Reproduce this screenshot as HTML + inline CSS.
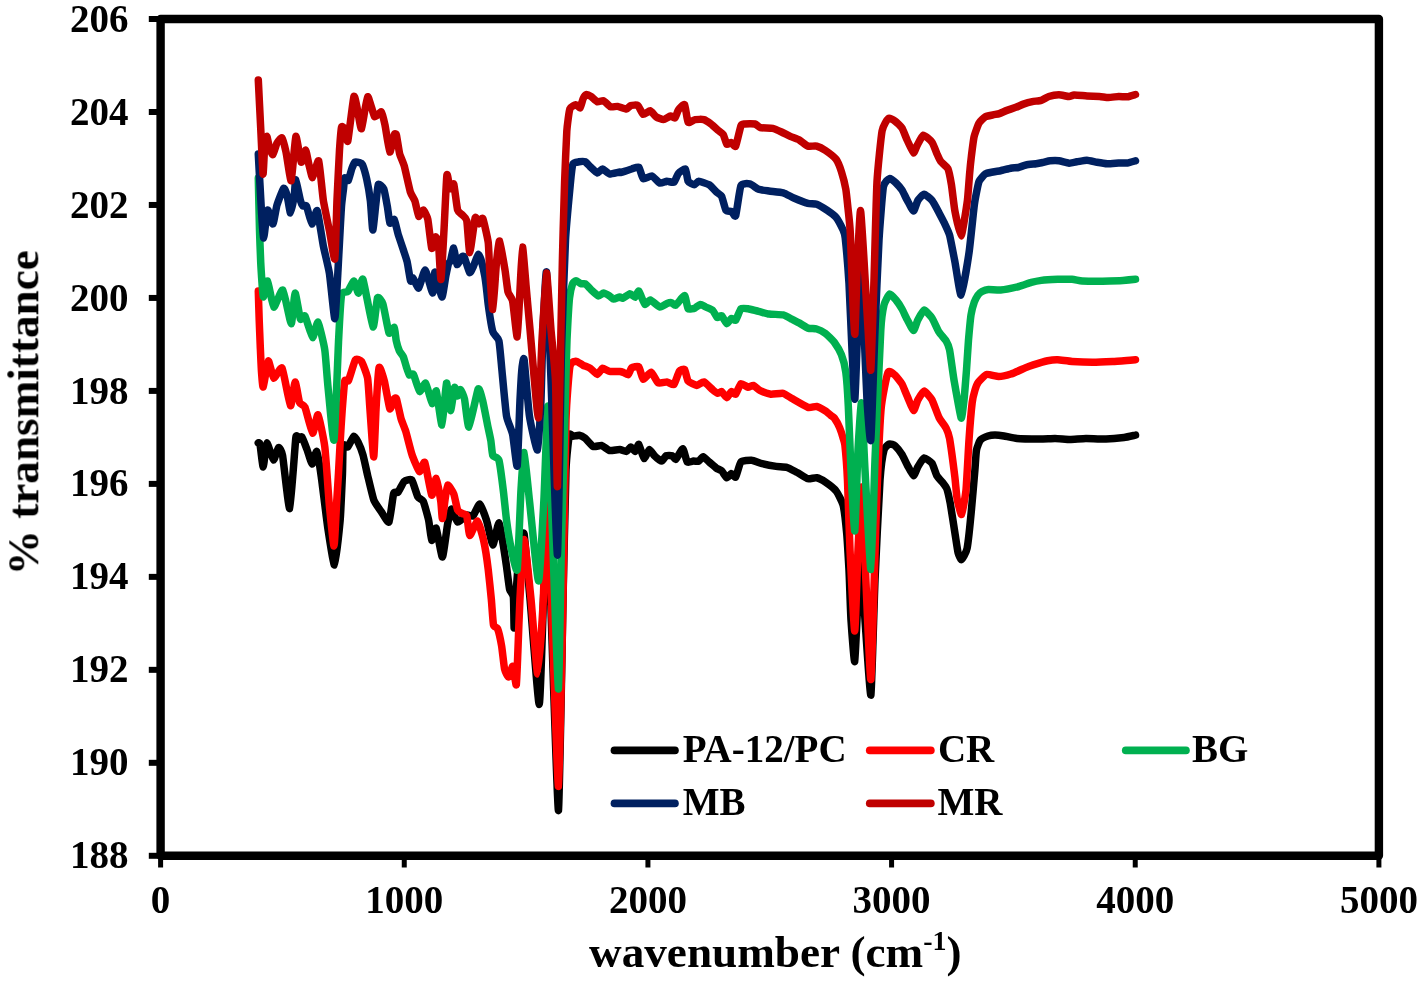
<!DOCTYPE html>
<html><head><meta charset="utf-8"><style>
html,body{margin:0;padding:0;background:#fff;width:1419px;height:982px;overflow:hidden}
svg{display:block}
text{will-change:transform}
text{font-family:"Liberation Serif",serif;font-weight:bold;fill:#000}
.t{font-size:39px}
.l{font-size:39px}
.ti{font-size:45.2px}
</style></head><body>
<svg width="1419" height="982" viewBox="0 0 1419 982">
<path d="M160.6,19.0H1378.9V855.8H160.6Z" fill="none" stroke="#000" stroke-width="8.4" stroke-linejoin="round"/>
<line x1="148.8" y1="855.80" x2="160.6" y2="855.80" stroke="#000" stroke-width="6"/>
<text x="128.5" y="868.40" text-anchor="end" class="t">188</text>
<line x1="148.8" y1="762.82" x2="160.6" y2="762.82" stroke="#000" stroke-width="6"/>
<text x="128.5" y="775.42" text-anchor="end" class="t">190</text>
<line x1="148.8" y1="669.84" x2="160.6" y2="669.84" stroke="#000" stroke-width="6"/>
<text x="128.5" y="682.44" text-anchor="end" class="t">192</text>
<line x1="148.8" y1="576.87" x2="160.6" y2="576.87" stroke="#000" stroke-width="6"/>
<text x="128.5" y="589.47" text-anchor="end" class="t">194</text>
<line x1="148.8" y1="483.89" x2="160.6" y2="483.89" stroke="#000" stroke-width="6"/>
<text x="128.5" y="496.49" text-anchor="end" class="t">196</text>
<line x1="148.8" y1="390.91" x2="160.6" y2="390.91" stroke="#000" stroke-width="6"/>
<text x="128.5" y="403.51" text-anchor="end" class="t">198</text>
<line x1="148.8" y1="297.93" x2="160.6" y2="297.93" stroke="#000" stroke-width="6"/>
<text x="128.5" y="310.53" text-anchor="end" class="t">200</text>
<line x1="148.8" y1="204.96" x2="160.6" y2="204.96" stroke="#000" stroke-width="6"/>
<text x="128.5" y="217.56" text-anchor="end" class="t">202</text>
<line x1="148.8" y1="111.98" x2="160.6" y2="111.98" stroke="#000" stroke-width="6"/>
<text x="128.5" y="124.58" text-anchor="end" class="t">204</text>
<line x1="148.8" y1="19.00" x2="160.6" y2="19.00" stroke="#000" stroke-width="6"/>
<text x="128.5" y="31.60" text-anchor="end" class="t">206</text>
<line x1="160.60" y1="855.8" x2="160.60" y2="867.5" stroke="#000" stroke-width="5"/>
<text x="160.60" y="912.9" text-anchor="middle" class="t">0</text>
<line x1="404.26" y1="855.8" x2="404.26" y2="867.5" stroke="#000" stroke-width="5"/>
<text x="404.26" y="912.9" text-anchor="middle" class="t">1000</text>
<line x1="647.92" y1="855.8" x2="647.92" y2="867.5" stroke="#000" stroke-width="5"/>
<text x="647.92" y="912.9" text-anchor="middle" class="t">2000</text>
<line x1="891.58" y1="855.8" x2="891.58" y2="867.5" stroke="#000" stroke-width="5"/>
<text x="891.58" y="912.9" text-anchor="middle" class="t">3000</text>
<line x1="1135.24" y1="855.8" x2="1135.24" y2="867.5" stroke="#000" stroke-width="5"/>
<text x="1135.24" y="912.9" text-anchor="middle" class="t">4000</text>
<line x1="1378.90" y1="855.8" x2="1378.90" y2="867.5" stroke="#000" stroke-width="5"/>
<text x="1378.90" y="912.9" text-anchor="middle" class="t">5000</text>
<path d="M258.3,443.0 C258.4,443.1 259.6,442.0 260.0,444.0 C260.4,446.0 262.6,467.1 263.2,467.0 C263.8,466.9 265.9,443.6 266.8,443.0 C267.7,442.4 272.4,459.6 273.4,460.0 C274.4,460.4 277.7,447.9 278.5,447.5 C279.3,447.1 281.7,450.5 282.6,455.6 C283.5,460.7 288.6,510.0 289.7,508.5 C290.8,507.0 295.1,443.8 295.8,438.0 C296.5,432.2 298.0,439.6 298.5,439.5 C299.0,439.4 301.2,436.2 301.9,437.0 C302.6,437.8 306.1,447.2 307.0,449.5 C307.9,451.8 311.3,463.8 312.1,464.0 C312.9,464.2 315.9,450.4 316.7,451.5 C317.5,452.6 320.4,470.6 321.3,477.0 C322.2,483.4 326.8,521.4 327.9,528.7 C329.0,536.0 333.5,565.6 334.5,565.0 C335.5,564.4 339.4,528.5 340.1,521.0 C340.8,513.5 342.1,481.6 342.4,475.3 C342.7,469.0 342.8,447.8 343.2,445.4 C343.6,443.0 346.9,447.7 347.8,446.9 C348.7,446.1 353.0,436.6 353.9,436.2 C354.8,435.8 357.2,440.4 358.0,442.0 C358.8,443.6 362.2,452.2 363.0,455.0 C363.8,457.8 366.7,471.6 367.6,475.3 C368.5,479.0 372.6,496.6 373.7,499.7 C374.8,502.8 380.1,510.0 381.4,511.9 C382.7,513.8 388.0,523.5 389.0,522.0 C390.0,520.5 392.9,496.1 393.6,493.6 C394.4,491.1 397.1,493.2 398.0,492.2 C398.9,491.2 403.1,482.5 404.2,481.5 C405.3,480.5 410.7,478.7 411.8,480.0 C412.9,481.3 416.9,495.2 417.9,497.0 C418.9,498.8 422.4,499.5 423.3,501.4 C424.2,503.3 427.9,516.8 428.6,520.0 C429.3,523.2 431.1,539.7 431.7,540.4 C432.3,541.1 435.3,526.8 436.2,528.2 C437.1,529.6 441.4,557.4 442.4,557.0 C443.4,556.6 446.9,527.6 447.7,523.6 C448.5,519.6 450.7,509.1 451.5,509.0 C452.3,508.9 456.3,521.6 457.6,522.1 C458.9,522.6 465.5,515.5 466.8,515.0 C468.1,514.5 471.8,516.9 472.9,516.0 C474.0,515.1 478.7,503.6 479.8,504.0 C480.9,504.4 485.5,517.1 486.6,520.5 C487.7,523.9 491.8,544.8 492.8,545.0 C493.8,545.2 498.0,522.7 498.9,522.8 C499.8,522.9 502.9,542.9 503.5,546.5 C504.1,550.1 506.0,562.8 506.5,566.4 C507.0,570.0 509.0,586.8 509.6,589.3 C510.2,591.8 513.0,593.8 513.4,597.0 C513.8,600.2 513.9,629.4 514.2,628.0 C514.5,626.6 516.5,586.9 517.0,580.0 C517.5,573.1 519.4,548.8 520.0,545.0 C520.6,541.2 523.3,529.4 524.1,534.0 C524.9,538.6 528.8,585.8 530.1,600.0 C531.4,614.2 538.1,704.5 539.2,704.5 C540.3,704.5 542.8,616.2 543.5,600.0 C544.2,583.8 546.8,506.7 547.5,510.0 C548.2,513.3 551.1,615.0 552.0,640.0 C552.9,665.0 557.6,813.8 558.5,810.5 C559.4,807.2 562.4,628.4 563.0,600.0 C563.6,571.6 565.5,483.8 566.0,470.0 C566.5,456.2 568.8,437.8 569.4,435.0 C570.0,432.2 572.2,436.3 573.0,436.3 C573.8,436.3 578.1,435.1 579.1,435.3 C580.1,435.5 584.0,437.4 585.2,438.3 C586.4,439.2 591.9,445.9 593.3,446.5 C594.7,447.1 600.1,445.2 601.5,445.5 C602.9,445.8 608.1,450.2 609.6,450.5 C611.1,450.8 618.4,449.4 619.8,449.5 C621.2,449.6 625.5,451.6 626.4,451.4 C627.3,451.2 630.1,447.0 630.8,447.0 C631.5,447.0 634.5,451.6 635.2,451.4 C635.9,451.2 638.1,443.8 638.8,444.4 C639.5,445.0 643.1,458.1 644.0,458.5 C644.9,458.9 648.4,449.8 649.3,449.6 C650.2,449.4 653.6,454.8 654.6,455.8 C655.6,456.8 660.7,461.1 661.7,461.1 C662.7,461.1 665.2,456.2 666.1,455.8 C667.0,455.4 671.4,455.5 672.2,455.8 C673.0,456.1 674.9,459.9 675.8,459.3 C676.7,458.7 681.8,448.6 682.8,448.8 C683.8,449.0 686.3,461.0 687.2,462.0 C688.1,463.0 692.4,461.2 693.4,461.1 C694.4,461.0 697.9,461.5 698.7,461.1 C699.5,460.7 702.2,456.6 703.1,456.7 C704.0,456.8 708.1,461.1 709.2,462.0 C710.3,462.9 715.3,467.4 716.3,468.1 C717.3,468.8 720.7,470.0 721.6,470.8 C722.5,471.6 726.0,477.6 726.8,477.8 C727.6,478.0 730.6,473.5 731.3,473.4 C732.0,473.3 734.9,477.9 735.7,477.0 C736.5,476.1 739.6,463.4 740.9,462.0 C742.2,460.6 749.7,460.1 751.5,460.2 C753.3,460.3 760.0,463.2 762.1,463.7 C764.2,464.2 774.2,466.1 776.2,466.4 C778.2,466.7 784.9,466.8 786.7,467.3 C788.5,467.8 795.5,471.6 797.3,472.5 C799.1,473.4 806.3,478.3 807.9,478.7 C809.5,479.1 815.2,477.5 816.7,477.8 C818.2,478.1 823.9,481.1 825.5,482.2 C827.1,483.3 834.6,489.1 836.1,491.0 C837.6,492.9 842.2,501.6 843.1,505.1 C844.0,508.6 846.2,527.9 846.7,533.3 C847.2,538.7 848.6,562.8 849.0,570.0 C849.4,577.2 850.5,612.4 851.0,620.0 C851.5,627.6 854.1,663.2 854.7,661.5 C855.3,659.8 857.4,608.0 858.0,600.0 C858.6,592.0 860.9,563.3 861.5,565.0 C862.1,566.7 864.2,609.2 865.0,620.0 C865.8,630.8 870.1,698.3 870.9,695.0 C871.7,691.7 874.2,597.9 875.0,580.0 C875.8,562.1 879.2,490.8 880.0,480.0 C880.8,469.2 883.2,453.0 884.0,450.0 C884.8,447.0 888.5,444.4 889.4,444.0 C890.3,443.6 894.0,444.8 895.0,445.7 C896.0,446.6 901.0,452.9 902.0,454.5 C903.0,456.1 906.3,463.3 907.3,465.1 C908.3,466.9 912.6,475.6 913.5,475.7 C914.4,475.8 917.0,468.3 917.9,466.8 C918.8,465.3 922.9,458.3 924.1,458.0 C925.3,457.7 930.9,461.8 932.0,463.3 C933.1,464.8 935.9,474.0 936.8,475.6 C937.7,477.2 941.6,481.2 942.4,482.3 C943.2,483.4 946.2,487.2 946.9,489.0 C947.6,490.8 949.6,500.1 950.3,503.6 C950.9,507.2 954.1,527.5 954.7,531.6 C955.4,535.7 957.5,550.6 958.1,552.9 C958.7,555.2 960.8,559.9 961.5,559.5 C962.2,559.1 966.3,552.6 967.1,548.4 C967.9,544.2 970.9,515.7 971.5,509.2 C972.1,502.7 974.5,474.9 974.9,470.0 C975.3,465.1 976.0,452.5 976.5,450.0 C977.0,447.5 979.4,441.2 980.4,440.0 C981.4,438.8 986.8,436.4 988.0,436.0 C989.2,435.6 993.7,435.0 995.0,435.0 C996.3,435.0 1002.2,435.7 1004.0,436.0 C1005.8,436.3 1014.0,438.2 1017.0,438.5 C1020.0,438.8 1036.8,439.0 1040.0,439.0 C1043.2,439.0 1052.5,438.5 1055.0,438.5 C1057.5,438.5 1067.4,439.5 1070.0,439.5 C1072.6,439.5 1083.0,438.5 1086.0,438.5 C1089.0,438.5 1102.8,439.1 1106.0,439.0 C1109.2,438.9 1121.5,437.8 1124.0,437.5 C1126.5,437.2 1134.5,435.3 1135.5,435.1" fill="none" stroke="#000000" stroke-width="7.5" stroke-linejoin="round" stroke-linecap="round"/>
<path d="M258.3,291.0 C258.4,293.4 259.0,315.5 259.2,320.0 C259.4,324.5 260.0,340.7 260.2,345.0 C260.4,349.3 261.2,368.5 261.5,372.0 C261.8,375.5 262.6,387.9 263.2,387.0 C263.8,386.1 267.4,361.7 268.3,361.0 C269.2,360.3 272.6,377.6 273.7,378.2 C274.8,378.8 280.7,366.0 282.1,368.3 C283.5,370.6 289.4,404.6 290.5,405.7 C291.6,406.8 294.3,382.3 295.1,382.0 C295.9,381.7 298.8,400.5 299.6,402.6 C300.4,404.7 303.9,404.6 305.0,407.2 C306.1,409.8 311.5,432.6 312.6,433.2 C313.7,433.8 317.0,413.7 318.0,414.8 C319.0,415.9 323.9,439.3 324.8,446.9 C325.8,454.5 328.6,497.5 329.4,505.8 C330.2,514.1 333.4,546.1 334.0,546.0 C334.6,545.9 336.1,511.1 336.5,505.0 C336.9,498.9 338.2,478.4 338.5,473.0 C338.8,467.6 340.0,445.2 340.3,440.0 C340.6,434.8 341.8,414.9 342.2,410.0 C342.6,405.1 344.2,383.7 344.7,381.2 C345.2,378.7 347.6,382.3 348.5,380.5 C349.4,378.7 354.3,361.5 355.4,359.9 C356.5,358.3 360.5,359.9 361.5,361.4 C362.5,362.9 366.9,374.1 367.6,378.2 C368.3,382.2 369.5,403.4 370.0,410.0 C370.5,416.6 373.2,457.0 373.7,457.0 C374.2,457.0 375.6,417.5 376.0,410.0 C376.4,402.5 378.4,369.9 379.1,367.5 C379.8,365.1 383.5,377.8 384.4,381.2 C385.3,384.6 389.0,407.2 389.8,408.7 C390.6,410.2 393.7,399.6 394.3,398.8 C394.9,398.0 395.9,397.3 396.5,399.0 C397.1,400.7 400.3,416.2 401.1,418.9 C401.9,421.6 404.8,428.2 405.7,431.1 C406.6,434.0 410.7,450.6 411.8,454.0 C412.9,457.4 418.3,470.9 419.4,471.6 C420.5,472.3 423.8,460.4 424.8,462.4 C425.8,464.4 430.8,493.9 431.7,495.2 C432.6,496.5 435.4,477.9 436.2,478.4 C437.0,478.9 440.3,498.1 440.8,501.4 C441.3,504.7 442.0,518.6 442.4,518.5 C442.8,518.4 444.6,502.8 445.0,500.0 C445.4,497.2 447.0,485.5 447.7,485.0 C448.4,484.5 453.0,491.9 453.8,494.0 C454.6,496.1 456.9,508.4 457.6,510.0 C458.3,511.6 461.4,513.0 462.2,513.5 C463.0,514.0 466.2,514.2 466.8,516.0 C467.4,517.8 468.9,535.1 469.8,535.5 C470.7,535.9 476.4,520.6 477.5,521.0 C478.6,521.4 482.7,536.4 483.6,540.4 C484.5,544.4 487.6,564.4 488.2,569.4 C488.8,574.4 491.0,595.4 491.4,600.0 C491.8,604.6 493.0,622.6 493.5,625.0 C494.0,627.4 496.8,626.8 497.5,628.5 C498.2,630.2 501.0,642.4 501.6,645.8 C502.2,649.2 504.0,666.6 504.6,669.2 C505.2,671.8 508.0,677.2 508.7,677.0 C509.4,676.8 512.2,665.5 512.8,666.2 C513.4,666.9 515.9,686.3 516.3,685.0 C516.7,683.7 517.6,658.1 517.9,651.0 C518.2,643.9 519.4,609.3 519.9,600.0 C520.4,590.7 523.2,539.5 524.1,539.5 C525.0,539.5 530.0,588.8 531.1,600.0 C532.2,611.2 536.7,674.0 537.7,674.0 C538.7,674.0 542.5,616.3 543.3,600.0 C544.1,583.7 546.3,476.3 547.0,478.0 C547.7,479.7 551.0,594.3 552.0,620.0 C553.0,645.7 557.6,788.2 558.5,786.5 C559.4,784.8 562.4,630.5 563.0,600.0 C563.6,569.5 565.4,439.5 566.0,420.0 C566.6,400.5 569.1,371.2 569.9,366.3 C570.7,361.4 574.9,361.3 576.0,361.2 C577.1,361.1 581.9,364.7 583.1,365.3 C584.3,365.9 589.1,367.5 590.3,368.3 C591.5,369.1 596.4,374.4 597.4,374.4 C598.4,374.4 601.5,368.6 602.5,368.3 C603.5,368.1 608.2,371.1 609.6,371.4 C611.0,371.7 618.7,371.3 619.8,371.4 C620.9,371.5 622.2,371.9 622.9,372.2 C623.6,372.5 627.5,375.2 628.2,374.8 C628.9,374.4 630.8,368.5 631.7,367.8 C632.6,367.1 637.8,365.9 638.8,366.9 C639.8,367.8 642.2,378.8 643.2,379.2 C644.2,379.6 649.9,371.9 651.1,372.2 C652.3,372.5 656.8,382.0 658.1,382.8 C659.4,383.6 665.6,381.8 666.9,381.9 C668.2,382.0 673.0,385.4 674.0,384.5 C675.0,383.6 678.4,372.6 679.3,371.3 C680.2,370.1 683.9,368.7 684.6,369.5 C685.3,370.3 687.1,379.7 688.1,381.0 C689.1,382.3 695.6,385.3 696.9,385.4 C698.2,385.5 702.6,381.5 703.9,381.9 C705.2,382.3 711.6,388.9 712.8,389.8 C714.0,390.8 717.3,393.2 718.0,393.3 C718.7,393.4 720.9,391.2 721.6,391.6 C722.3,392.0 726.0,397.7 726.8,397.7 C727.6,397.7 730.6,391.9 731.3,391.6 C732.0,391.3 734.9,394.9 735.7,394.2 C736.5,393.5 739.9,384.2 740.9,383.6 C741.9,383.0 747.0,387.1 748.0,387.2 C749.0,387.3 752.3,385.1 753.3,385.4 C754.3,385.7 758.8,390.0 760.3,390.7 C761.8,391.4 769.0,394.0 770.9,394.2 C772.8,394.4 781.4,392.9 783.2,393.3 C785.0,393.7 789.9,397.4 792.0,398.6 C794.1,399.8 805.8,406.7 807.9,407.4 C810.0,408.1 815.2,406.2 816.7,406.5 C818.2,406.8 824.3,410.2 825.5,410.9 C826.7,411.6 830.1,414.7 830.8,415.3 C831.5,415.9 833.6,417.0 834.3,418.0 C835.0,419.0 838.9,425.9 839.6,427.6 C840.3,429.3 842.6,436.4 843.0,437.9 C843.4,439.4 844.5,441.6 844.9,445.2 C845.3,448.8 847.1,471.8 847.5,480.5 C847.9,489.2 849.4,537.5 850.0,550.0 C850.6,562.5 854.0,631.0 854.7,631.0 C855.4,631.0 857.4,562.0 858.0,550.0 C858.6,538.0 860.9,486.2 861.5,487.0 C862.1,487.8 864.2,544.0 865.0,560.0 C865.8,576.0 870.0,682.8 870.9,679.5 C871.8,676.2 875.2,542.5 876.0,520.0 C876.8,497.5 880.0,422.3 881.0,410.0 C882.0,397.7 886.8,375.4 888.0,372.5 C889.2,369.6 893.8,374.2 895.0,375.2 C896.2,376.2 901.0,382.2 902.0,384.0 C903.0,385.8 906.3,394.2 907.3,396.4 C908.3,398.6 912.6,410.2 913.5,410.5 C914.4,410.8 917.0,401.5 917.9,399.9 C918.8,398.3 922.9,391.1 924.1,391.1 C925.3,391.1 930.8,397.7 932.0,399.9 C933.2,402.1 937.8,415.1 939.0,417.5 C940.2,419.9 945.2,426.3 946.1,428.1 C947.0,429.9 948.9,434.6 949.6,438.7 C950.3,442.8 954.3,472.5 954.9,477.4 C955.5,482.3 956.5,494.9 957.0,498.0 C957.5,501.1 960.8,515.2 961.5,514.5 C962.2,513.8 965.4,496.2 966.0,490.0 C966.6,483.8 968.5,447.3 969.0,440.0 C969.5,432.7 971.7,406.7 972.2,402.5 C972.7,398.3 974.5,391.7 975.0,390.0 C975.5,388.3 977.3,383.5 978.3,382.2 C979.3,380.9 984.8,375.0 986.5,374.5 C988.2,374.0 996.7,376.5 998.7,376.5 C1000.7,376.5 1008.7,374.7 1010.9,374.0 C1013.1,373.3 1023.3,368.7 1025.2,367.9 C1027.1,367.1 1031.4,365.5 1033.3,364.9 C1035.2,364.3 1045.6,361.2 1047.6,360.8 C1049.6,360.4 1055.7,359.7 1057.7,359.8 C1059.7,359.9 1069.1,361.3 1072.0,361.5 C1074.9,361.7 1089.0,362.3 1092.4,362.3 C1095.8,362.3 1109.1,361.7 1112.7,361.5 C1116.3,361.3 1133.6,359.8 1135.5,359.7" fill="none" stroke="#FF0000" stroke-width="7.5" stroke-linejoin="round" stroke-linecap="round"/>
<path d="M258.3,178.0 C258.4,182.3 259.3,223.0 259.5,230.0 C259.7,237.0 260.5,257.6 260.7,262.0 C260.9,266.4 261.8,280.1 262.0,283.0 C262.2,285.9 263.0,297.2 263.5,297.0 C264.0,296.8 266.8,280.2 267.6,281.0 C268.5,281.8 272.4,306.2 273.7,307.0 C275.0,307.8 281.3,288.7 282.8,290.1 C284.3,291.5 290.2,323.4 291.2,323.7 C292.2,324.0 294.3,293.6 295.1,293.2 C295.9,292.8 299.6,317.2 300.4,319.1 C301.2,321.0 304.0,314.5 305.0,316.0 C306.0,317.5 311.5,337.0 312.6,337.5 C313.7,338.0 317.0,321.2 318.0,322.2 C319.0,323.2 324.0,344.7 324.8,350.0 C325.6,355.3 327.1,378.3 327.9,385.8 C328.7,393.3 333.1,443.8 334.0,440.0 C334.9,436.2 338.0,352.1 338.6,340.0 C339.2,327.9 340.8,298.7 341.6,294.7 C342.4,290.7 346.8,292.7 347.8,291.6 C348.8,290.5 353.0,280.9 353.9,281.0 C354.8,281.1 357.6,293.3 358.4,293.2 C359.2,293.1 361.8,276.6 363.0,279.4 C364.2,282.2 371.8,325.3 373.0,326.8 C374.2,328.3 376.7,299.7 377.5,297.8 C378.3,295.9 381.9,301.0 382.9,303.9 C383.9,306.8 388.1,330.9 389.0,332.9 C389.9,334.9 393.7,326.9 394.3,327.5 C394.9,328.1 395.8,338.6 396.2,340.5 C396.6,342.4 398.7,349.3 399.3,350.7 C399.9,352.1 402.7,355.4 403.3,356.8 C403.9,358.2 405.9,365.5 406.4,367.0 C406.9,368.5 408.8,374.4 409.4,375.0 C410.0,375.6 412.6,373.1 413.5,374.5 C414.4,375.9 418.6,390.8 419.6,391.5 C420.6,392.2 424.6,382.3 425.7,383.3 C426.8,384.3 431.3,403.0 432.2,403.6 C433.1,404.2 435.5,389.2 436.3,391.0 C437.1,392.8 441.1,425.7 442.0,425.0 C442.9,424.3 445.8,384.2 446.5,383.0 C447.2,381.8 449.8,410.1 450.5,410.5 C451.2,410.9 454.0,388.7 454.6,387.5 C455.2,386.3 457.0,395.8 457.5,396.0 C458.0,396.2 459.9,389.2 460.5,389.5 C461.1,389.8 463.8,395.9 464.5,399.0 C465.2,402.1 467.8,427.8 468.9,427.0 C470.0,426.2 477.1,391.2 478.2,389.0 C479.3,386.8 481.9,397.7 482.7,400.7 C483.5,403.7 486.9,421.8 487.6,425.2 C488.3,428.6 490.5,438.5 490.9,441.0 C491.3,443.5 492.1,453.9 492.8,455.5 C493.5,457.1 498.0,457.0 498.9,460.1 C499.8,463.2 502.9,487.2 503.5,492.2 C504.1,497.2 505.9,515.4 506.5,520.0 C507.1,524.6 510.2,543.9 511.1,548.0 C512.0,552.1 516.4,574.3 517.2,569.5 C518.0,564.7 520.4,499.8 521.0,490.0 C521.6,480.2 523.4,451.7 524.1,452.5 C524.8,453.3 528.2,489.3 529.4,500.0 C530.6,510.7 537.3,581.0 538.5,581.0 C539.7,581.0 543.1,514.6 543.9,500.0 C544.7,485.4 547.3,404.3 548.0,406.0 C548.7,407.7 551.1,496.4 552.0,520.0 C552.9,543.6 557.5,687.3 558.3,689.0 C559.1,690.7 561.0,559.9 561.5,540.0 C562.0,520.1 563.7,461.7 564.0,450.0 C564.3,438.3 565.0,409.2 565.3,400.0 C565.5,390.8 566.6,348.5 567.0,340.0 C567.4,331.5 569.0,302.7 569.5,298.0 C570.0,293.3 572.0,285.4 572.5,284.0 C573.0,282.6 575.3,280.7 576.0,280.7 C576.7,280.7 580.3,283.5 581.1,283.8 C581.9,284.1 584.4,283.3 585.2,283.8 C586.1,284.3 590.2,288.9 591.3,289.9 C592.4,290.9 597.4,295.7 598.4,296.0 C599.4,296.3 602.6,293.0 603.5,293.0 C604.4,293.0 608.8,295.5 609.6,296.0 C610.5,296.5 612.9,299.0 613.7,299.1 C614.6,299.2 619.0,297.1 619.8,297.0 C620.6,296.9 622.0,298.5 622.9,298.2 C623.8,297.9 629.0,293.9 630.0,293.8 C631.0,293.7 634.5,297.5 635.2,297.3 C635.9,297.1 638.0,290.5 638.8,291.1 C639.6,291.7 643.9,303.7 644.9,304.4 C645.9,305.1 649.0,299.8 650.2,300.0 C651.5,300.2 658.5,306.7 659.9,307.0 C661.3,307.3 666.0,303.9 667.0,303.5 C668.0,303.1 670.7,302.5 671.4,302.6 C672.1,302.7 674.7,305.8 675.8,305.2 C676.9,304.6 683.6,295.2 684.6,295.5 C685.6,295.8 687.2,307.8 688.1,308.8 C689.0,309.8 694.1,308.3 695.1,307.9 C696.1,307.5 699.5,304.5 700.4,304.4 C701.3,304.3 704.7,306.5 705.7,307.0 C706.7,307.5 711.8,309.6 712.8,310.5 C713.8,311.4 716.5,317.2 717.2,317.6 C717.9,318.0 720.8,315.3 721.6,315.8 C722.4,316.3 726.0,323.5 726.8,323.7 C727.6,323.9 730.6,318.7 731.3,318.4 C732.0,318.1 734.9,321.0 735.7,320.2 C736.5,319.4 739.9,309.8 740.9,308.8 C741.9,307.9 746.5,308.6 748.0,308.8 C749.5,309.0 756.8,311.0 758.6,311.4 C760.4,311.8 767.1,313.7 769.1,314.0 C771.1,314.3 781.3,314.5 783.2,314.9 C785.1,315.3 790.7,318.6 792.0,319.3 C793.3,320.0 797.8,322.2 799.1,322.9 C800.4,323.6 806.4,327.6 807.9,328.1 C809.4,328.6 815.2,328.6 816.7,329.0 C818.2,329.4 824.0,332.3 825.5,333.4 C827.0,334.5 833.0,340.4 834.3,342.2 C835.6,344.0 840.4,352.1 841.4,354.6 C842.4,357.1 845.2,367.9 845.8,372.2 C846.4,376.5 847.9,397.9 848.3,406.0 C848.7,414.1 850.5,459.6 851.0,470.0 C851.5,480.4 854.2,532.7 854.8,531.0 C855.4,529.3 857.4,460.7 858.0,450.0 C858.6,439.3 860.9,401.3 861.5,403.0 C862.1,404.7 864.2,456.1 865.0,470.0 C865.8,483.9 870.1,570.3 870.9,569.5 C871.7,568.7 874.2,480.0 875.0,460.0 C875.8,440.0 880.0,342.9 880.8,330.0 C881.5,317.1 883.3,308.0 884.0,305.0 C884.7,302.0 888.7,294.4 889.7,294.0 C890.7,293.6 895.0,298.8 896.0,300.0 C897.0,301.2 901.1,307.4 902.0,309.0 C902.9,310.6 906.3,318.0 907.3,319.8 C908.3,321.6 912.6,330.4 913.5,330.4 C914.4,330.4 917.0,321.5 917.9,319.8 C918.8,318.1 922.9,310.2 924.1,310.1 C925.3,310.0 930.8,316.2 932.0,318.0 C933.2,319.8 937.8,330.2 939.0,332.1 C940.2,334.0 945.2,339.4 946.1,340.9 C947.0,342.4 948.9,346.7 949.6,350.0 C950.3,353.3 953.0,374.3 954.0,380.0 C955.0,385.7 960.3,416.3 961.1,418.0 C961.9,419.7 963.5,404.0 964.0,400.0 C964.5,396.0 966.1,375.0 966.5,370.0 C966.9,365.0 968.1,344.6 968.5,340.0 C968.9,335.4 970.5,318.2 971.0,315.0 C971.5,311.8 973.7,303.7 974.3,302.0 C974.9,300.3 977.4,295.9 978.0,295.0 C978.6,294.1 981.1,292.0 982.0,291.5 C982.9,291.0 986.9,289.6 988.5,289.5 C990.1,289.4 998.2,290.2 1000.7,290.0 C1003.2,289.8 1016.5,287.1 1019.0,286.5 C1021.5,285.9 1029.4,282.9 1031.3,282.4 C1033.2,281.9 1039.2,280.7 1041.4,280.4 C1043.6,280.1 1055.2,279.4 1057.7,279.3 C1060.2,279.2 1070.0,279.2 1072.0,279.3 C1074.0,279.4 1079.7,280.8 1082.2,281.0 C1084.7,281.2 1099.1,281.2 1102.5,281.2 C1105.9,281.1 1120.2,280.6 1122.9,280.4 C1125.7,280.2 1134.5,279.4 1135.5,279.3" fill="none" stroke="#00B050" stroke-width="7.5" stroke-linejoin="round" stroke-linecap="round"/>
<path d="M258.3,154.0 C258.4,156.6 259.7,180.2 260.0,185.0 C260.3,189.8 261.2,207.6 261.5,212.0 C261.8,216.4 263.2,238.2 263.7,238.0 C264.2,237.8 266.8,211.2 267.6,210.0 C268.4,208.8 272.1,224.4 272.9,224.0 C273.7,223.6 276.1,208.0 277.0,205.0 C277.9,202.0 282.8,189.1 283.6,188.3 C284.4,187.5 286.4,192.9 287.0,195.0 C287.6,197.1 289.9,213.0 290.5,213.0 C291.1,213.0 293.9,197.8 294.3,195.0 C294.7,192.2 295.3,179.5 295.8,180.0 C296.3,180.5 299.8,198.3 300.4,200.5 C301.0,202.7 302.5,205.5 303.0,206.0 C303.5,206.5 305.8,204.5 306.5,206.0 C307.2,207.5 311.0,223.6 311.9,224.0 C312.8,224.4 316.2,208.9 317.2,210.7 C318.1,212.5 322.3,240.6 323.3,245.8 C324.3,251.0 328.4,267.2 329.4,273.3 C330.4,279.4 334.1,319.0 334.8,318.7 C335.5,318.4 337.6,277.4 338.0,270.0 C338.4,262.6 339.8,235.9 340.1,230.5 C340.4,225.1 341.3,208.5 341.6,205.0 C341.9,201.5 343.2,191.2 343.5,188.9 C343.8,186.6 344.3,178.6 344.7,177.9 C345.1,177.2 347.7,181.2 348.3,180.4 C348.9,179.6 351.4,169.6 352.0,168.1 C352.6,166.6 354.5,162.5 355.1,162.0 C355.7,161.5 358.7,162.4 359.3,162.6 C359.9,162.8 361.8,163.1 362.4,164.5 C363.0,165.9 366.0,176.0 366.7,179.1 C367.4,182.2 369.9,196.9 370.4,201.1 C370.9,205.3 372.3,229.8 372.8,230.0 C373.3,230.2 375.4,207.4 375.9,203.6 C376.4,199.8 377.6,185.7 378.3,184.5 C379.0,183.3 383.0,187.0 383.8,188.9 C384.6,190.8 387.0,204.5 387.5,207.3 C388.0,210.2 389.3,222.1 389.9,223.1 C390.5,224.1 393.5,218.5 394.2,219.5 C394.9,220.5 397.7,232.9 398.5,235.4 C399.3,237.9 402.7,247.8 403.4,250.0 C404.1,252.2 406.6,259.4 407.2,262.0 C407.8,264.6 410.1,279.7 410.6,281.0 C411.1,282.3 412.3,277.4 413.0,278.0 C413.7,278.6 417.7,288.7 418.7,288.0 C419.7,287.3 424.0,269.6 425.2,270.0 C426.4,270.4 431.8,292.8 432.6,293.0 C433.4,293.2 434.2,271.7 435.0,272.0 C435.8,272.3 441.0,296.8 441.9,297.0 C442.8,297.2 445.4,277.8 446.0,275.0 C446.6,272.2 448.1,264.7 448.5,263.5 C448.9,262.3 450.1,262.3 450.5,261.0 C450.9,259.7 453.2,247.7 453.7,248.0 C454.2,248.3 456.3,263.8 457.0,264.5 C457.7,265.2 461.3,257.6 461.9,257.0 C462.5,256.4 463.7,255.7 464.3,257.0 C464.9,258.3 468.9,271.7 469.6,272.5 C470.4,273.3 472.6,268.1 473.3,266.6 C474.0,265.1 477.5,255.0 478.2,254.5 C478.9,254.0 480.9,259.2 481.4,261.0 C481.9,262.8 484.3,273.4 484.7,275.6 C485.1,277.8 486.0,284.6 486.3,287.0 C486.6,289.4 487.7,300.5 488.2,304.2 C488.7,307.9 491.9,328.6 492.8,331.6 C493.7,334.7 498.1,337.6 498.9,340.8 C499.7,344.0 501.3,363.8 501.9,370.0 C502.5,376.2 505.6,410.4 506.5,415.8 C507.4,421.2 511.7,430.0 512.6,434.2 C513.5,438.4 516.6,468.9 517.2,466.0 C517.8,463.1 519.6,408.0 520.0,400.0 C520.4,392.0 521.5,373.4 521.8,370.0 C522.1,366.6 523.5,355.7 524.1,359.5 C524.7,363.3 528.3,408.3 529.4,415.8 C530.5,423.3 536.5,451.3 537.5,450.0 C538.5,448.7 540.5,410.0 541.0,400.0 C541.5,390.0 542.5,340.7 543.0,330.0 C543.5,319.3 545.8,267.8 546.5,272.0 C547.2,276.2 550.1,356.4 551.0,380.0 C551.9,403.6 556.6,557.5 557.5,555.0 C558.4,552.5 560.8,376.2 561.5,350.0 C562.2,323.8 564.8,254.0 565.5,240.0 C566.2,226.0 569.9,188.5 570.5,182.2 C571.1,175.9 572.3,165.6 573.0,163.9 C573.7,162.2 578.1,162.0 579.1,161.8 C580.1,161.6 584.3,161.4 585.2,161.8 C586.1,162.2 589.3,166.0 590.3,166.9 C591.3,167.8 596.4,172.8 597.4,173.0 C598.4,173.2 601.5,168.9 602.5,169.0 C603.5,169.1 608.2,173.8 609.6,174.0 C611.0,174.2 618.8,172.1 619.8,172.0 C620.8,171.9 620.1,172.8 621.1,172.5 C622.1,172.2 630.2,169.4 631.7,169.0 C633.2,168.6 637.8,166.4 638.8,167.2 C639.8,168.0 642.1,178.0 643.2,178.7 C644.3,179.4 650.6,175.6 652.0,176.0 C653.4,176.4 658.7,182.7 659.9,183.1 C661.1,183.5 665.7,181.4 666.9,181.3 C668.1,181.2 673.0,182.9 674.0,182.2 C675.0,181.5 677.4,174.5 678.4,173.4 C679.4,172.3 684.6,168.3 685.4,169.0 C686.2,169.7 687.4,180.0 688.1,181.3 C688.8,182.6 693.4,184.8 694.3,184.8 C695.2,184.8 697.5,181.3 698.7,181.3 C699.9,181.3 707.7,183.9 709.2,184.8 C710.7,185.7 715.3,190.9 716.3,191.9 C717.3,192.9 720.8,194.8 721.6,196.3 C722.4,197.8 725.2,209.2 726.0,210.4 C726.8,211.7 730.5,210.9 731.3,211.3 C732.1,211.7 734.9,217.8 735.7,215.7 C736.5,213.6 739.7,188.3 740.9,185.7 C742.1,183.0 748.3,183.6 749.8,183.9 C751.3,184.2 757.0,188.6 758.6,189.2 C760.2,189.8 767.1,190.7 769.1,191.0 C771.1,191.3 781.1,192.2 783.2,192.8 C785.3,193.4 791.7,197.1 793.8,198.0 C795.9,198.9 806.0,202.8 807.9,203.3 C809.8,203.8 815.1,203.6 816.7,204.2 C818.3,204.8 825.7,209.3 827.3,210.4 C828.9,211.5 834.8,215.8 836.1,217.4 C837.4,219.0 842.3,228.3 843.1,230.0 C843.9,231.7 844.7,233.3 845.2,237.8 C845.7,242.3 848.4,274.2 849.0,283.6 C849.6,293.0 851.5,340.4 852.0,350.0 C852.5,359.6 854.4,401.5 854.9,399.0 C855.4,396.5 857.5,330.7 858.0,320.0 C858.5,309.3 860.0,270.2 860.5,271.0 C861.0,271.8 863.5,319.2 864.0,330.0 C864.5,340.8 866.4,390.8 867.0,400.0 C867.6,409.2 870.1,445.8 870.8,440.0 C871.5,434.2 874.3,346.7 875.0,330.0 C875.7,313.3 878.3,251.9 879.0,240.0 C879.7,228.1 882.5,192.0 883.4,186.9 C884.3,181.8 888.7,178.8 889.7,178.5 C890.8,178.2 895.0,182.0 896.0,183.0 C897.0,184.0 901.1,188.6 902.0,190.0 C902.9,191.4 906.3,198.7 907.3,200.4 C908.3,202.2 912.6,211.0 913.5,211.0 C914.4,211.0 917.0,201.8 917.9,200.4 C918.8,199.0 922.9,194.2 924.1,194.2 C925.3,194.2 930.8,198.9 932.0,200.4 C933.2,201.9 938.0,210.8 939.0,212.7 C940.0,214.6 943.4,221.0 944.3,222.9 C945.2,224.8 948.7,232.0 949.6,235.2 C950.5,238.4 953.9,256.7 954.9,261.7 C955.9,266.7 959.9,295.7 961.1,295.0 C962.3,294.3 968.0,259.8 969.0,252.9 C970.0,246.0 973.0,216.5 973.5,212.0 C974.0,207.5 974.7,201.7 975.2,199.2 C975.7,196.7 978.1,183.6 979.0,181.5 C979.9,179.4 984.2,174.7 985.4,173.9 C986.6,173.1 991.7,172.3 993.0,172.0 C994.3,171.7 999.1,171.0 1000.6,170.7 C1002.1,170.4 1009.2,168.5 1010.7,168.2 C1012.2,167.9 1017.1,167.8 1018.4,167.5 C1019.7,167.2 1024.5,165.3 1026.0,165.0 C1027.5,164.7 1034.7,163.9 1036.1,163.7 C1037.5,163.5 1041.3,162.7 1042.5,162.5 C1043.7,162.3 1048.7,160.9 1050.1,160.8 C1051.5,160.7 1057.3,160.6 1058.9,160.8 C1060.5,161.0 1067.6,163.1 1069.1,163.2 C1070.6,163.3 1075.2,162.1 1076.7,161.8 C1078.2,161.6 1085.2,160.2 1086.9,160.2 C1088.6,160.2 1095.3,162.0 1097.0,162.3 C1098.7,162.6 1105.4,163.7 1107.2,163.8 C1109.0,163.9 1116.9,163.1 1118.6,163.0 C1120.3,162.9 1126.0,163.2 1127.4,163.0 C1128.8,162.8 1134.8,161.0 1135.5,160.8" fill="none" stroke="#002060" stroke-width="7.5" stroke-linejoin="round" stroke-linecap="round"/>
<path d="M258.3,80.0 C258.5,84.2 260.4,122.2 260.8,130.0 C261.2,137.8 262.7,172.3 263.0,174.0 C263.3,175.7 264.2,153.1 264.5,150.0 C264.8,146.9 266.4,136.6 266.8,136.4 C267.2,136.2 269.0,146.5 269.5,148.0 C270.0,149.5 272.3,155.1 272.9,154.7 C273.5,154.3 276.2,144.4 277.0,143.0 C277.8,141.6 281.2,137.2 282.0,138.0 C282.8,138.8 285.2,148.4 286.0,152.0 C286.8,155.6 290.4,182.0 291.2,180.7 C292.0,179.4 295.0,137.9 295.8,136.4 C296.6,134.9 300.4,161.2 301.2,162.3 C302.0,163.4 305.1,149.9 305.7,150.1 C306.3,150.3 308.4,162.7 309.0,165.0 C309.6,167.3 311.8,177.9 312.6,177.6 C313.4,177.2 317.8,158.9 318.7,160.8 C319.6,162.7 322.4,194.2 323.3,200.0 C324.2,205.8 328.4,225.6 329.4,230.5 C330.4,235.4 334.2,261.5 334.8,259.0 C335.4,256.5 336.6,209.1 337.0,200.0 C337.4,190.9 339.1,156.1 339.5,150.0 C339.9,143.9 341.1,128.7 341.6,127.0 C342.1,125.3 345.0,128.8 345.5,130.0 C346.0,131.2 347.1,143.8 347.8,141.0 C348.5,138.2 353.1,99.3 353.9,96.7 C354.7,94.1 356.9,107.3 357.5,110.0 C358.1,112.7 360.7,129.8 361.5,128.7 C362.3,127.6 366.5,97.7 367.6,96.7 C368.7,95.7 373.4,115.2 374.5,116.5 C375.6,117.8 380.5,111.2 381.4,111.9 C382.3,112.6 384.3,121.7 385.0,125.0 C385.7,128.3 389.0,151.2 389.8,152.0 C390.6,152.8 393.7,136.2 394.3,134.8 C394.9,133.4 396.1,133.7 396.5,135.3 C396.9,136.9 399.0,151.1 399.6,153.6 C400.2,156.1 403.3,162.6 404.2,165.8 C405.1,169.0 409.4,188.9 410.3,191.8 C411.2,194.7 414.2,199.0 414.9,201.0 C415.6,203.0 418.0,215.4 418.7,216.2 C419.4,217.0 422.5,209.8 423.3,210.1 C424.1,210.4 427.1,216.1 427.8,219.3 C428.5,222.5 431.1,246.8 431.7,248.3 C432.3,249.8 434.9,237.2 435.5,236.8 C436.1,236.4 438.0,240.1 438.5,243.7 C439.0,247.3 440.5,280.6 441.0,279.5 C441.5,278.4 443.5,238.7 444.0,230.0 C444.5,221.3 446.4,178.4 446.9,175.0 C447.4,171.6 449.4,187.9 450.0,188.7 C450.6,189.5 453.2,182.4 453.8,184.2 C454.4,186.0 456.9,207.6 457.6,210.1 C458.3,212.6 461.4,213.8 462.2,214.7 C463.0,215.6 466.2,217.7 466.8,220.8 C467.4,224.0 469.1,252.8 469.8,252.5 C470.5,252.2 474.4,220.2 475.2,217.8 C476.0,215.4 478.4,223.8 479.0,223.9 C479.6,224.0 482.0,217.0 482.8,218.5 C483.6,220.0 487.6,237.9 488.2,242.2 C488.8,246.5 489.3,264.9 489.7,270.5 C490.1,276.1 492.2,310.2 492.8,309.5 C493.4,308.8 495.9,267.7 496.5,262.0 C497.1,256.3 498.9,240.3 499.6,241.0 C500.3,241.7 504.3,265.8 505.0,270.0 C505.7,274.2 507.4,289.4 508.0,292.0 C508.6,294.6 511.8,297.2 512.6,301.0 C513.4,304.8 516.6,337.9 517.2,337.0 C517.8,336.1 519.6,297.5 520.0,290.0 C520.4,282.5 522.0,247.4 522.5,247.0 C523.0,246.6 525.4,277.9 526.0,285.0 C526.6,292.1 529.2,320.5 530.2,331.6 C531.2,342.7 537.3,417.3 538.3,418.0 C539.3,418.7 541.3,352.1 542.0,340.0 C542.7,327.9 545.8,273.8 546.5,273.0 C547.2,272.2 550.2,320.9 551.0,330.0 C551.8,339.1 555.1,369.6 555.6,382.6 C556.1,395.6 556.9,496.2 557.5,486.0 C558.1,475.8 561.8,285.3 562.4,260.0 C563.0,234.7 564.2,192.7 564.6,182.0 C565.0,171.3 566.4,137.4 566.8,131.3 C567.2,125.2 569.1,111.1 569.9,108.9 C570.7,106.7 575.1,104.9 576.0,104.8 C576.9,104.7 579.5,108.4 580.1,107.9 C580.7,107.4 582.6,99.8 583.1,98.7 C583.6,97.6 585.5,94.8 586.2,94.6 C586.9,94.4 590.4,96.1 591.3,96.7 C592.2,97.3 596.4,101.5 597.4,101.8 C598.4,102.1 602.4,100.3 603.5,100.7 C604.6,101.1 609.4,106.3 610.6,106.8 C611.8,107.3 616.3,106.2 617.6,106.4 C618.9,106.6 625.3,109.2 626.4,109.1 C627.5,109.0 629.8,105.8 630.8,105.5 C631.8,105.2 636.9,104.8 637.9,105.5 C638.9,106.2 642.2,114.0 643.2,114.4 C644.2,114.8 649.1,110.6 650.2,110.8 C651.3,111.0 655.3,116.3 656.4,117.0 C657.5,117.7 662.2,119.7 663.4,119.6 C664.6,119.5 669.5,116.2 670.5,116.1 C671.5,116.0 674.2,118.4 674.9,117.9 C675.6,117.4 677.6,111.1 678.4,110.0 C679.2,108.9 683.8,103.7 684.6,104.7 C685.4,105.7 687.2,121.1 688.1,122.3 C689.0,123.5 693.8,119.8 695.1,119.6 C696.4,119.4 702.6,119.2 703.9,119.6 C705.2,120.0 709.8,123.1 711.0,124.0 C712.2,124.9 717.0,129.3 718.0,130.2 C719.0,131.1 722.6,133.4 723.3,134.6 C724.0,135.8 726.1,143.6 726.8,144.3 C727.5,145.0 730.6,142.3 731.3,142.5 C732.0,142.7 734.9,147.5 735.7,146.1 C736.5,144.7 740.2,127.6 740.9,125.8 C741.6,124.0 743.3,124.2 744.5,124.0 C745.7,123.8 753.7,123.7 755.0,124.0 C756.3,124.3 758.8,127.2 760.3,127.6 C761.8,128.0 770.9,128.0 772.7,128.4 C774.5,128.8 780.0,131.3 781.5,132.0 C783.0,132.7 788.8,135.7 790.3,136.4 C791.8,137.1 797.6,139.1 799.1,139.9 C800.6,140.7 806.4,145.6 807.9,146.1 C809.4,146.6 815.2,145.7 816.7,146.1 C818.2,146.5 823.9,149.4 825.5,150.5 C827.1,151.6 834.8,157.5 836.1,159.3 C837.4,161.1 840.6,169.1 841.4,171.6 C842.2,174.1 845.2,185.8 845.8,189.2 C846.4,192.6 848.0,208.4 848.4,212.0 C848.8,215.6 849.9,225.4 850.3,232.7 C850.7,240.0 852.4,291.6 852.8,300.0 C853.2,308.4 854.5,337.3 854.9,334.0 C855.3,330.7 857.0,270.3 857.5,260.0 C858.0,249.7 860.0,210.5 860.5,210.5 C861.0,210.5 863.4,250.0 864.0,260.0 C864.6,270.0 867.5,320.8 868.1,330.0 C868.7,339.2 870.3,374.2 870.8,370.0 C871.3,365.8 873.5,295.7 874.0,280.0 C874.5,264.3 876.3,194.2 877.0,181.8 C877.7,169.4 881.1,136.2 882.1,130.9 C883.1,125.6 887.3,119.3 888.4,118.5 C889.5,117.7 893.9,120.3 895.0,121.1 C896.1,121.9 901.0,126.5 902.0,128.1 C903.0,129.7 906.3,138.4 907.3,140.5 C908.3,142.6 912.7,152.4 913.5,152.8 C914.3,153.2 916.2,147.3 917.0,145.8 C917.8,144.3 922.0,135.5 923.2,135.2 C924.5,134.9 930.8,140.6 932.0,142.2 C933.2,143.8 936.6,153.0 937.3,154.6 C938.0,156.2 939.9,160.4 940.8,161.6 C941.7,162.8 947.0,166.8 947.9,168.7 C948.8,170.6 950.8,181.0 951.4,184.5 C952.0,188.0 954.1,206.7 954.9,211.0 C955.7,215.3 960.2,236.1 961.1,236.0 C962.0,235.9 965.5,213.1 966.0,210.0 C966.5,206.9 967.3,201.9 967.6,199.0 C967.9,196.1 969.2,178.6 969.5,175.0 C969.8,171.4 971.0,159.3 971.4,156.1 C971.8,152.9 973.4,139.8 974.0,137.1 C974.6,134.3 978.0,124.8 979.0,123.1 C980.0,121.4 984.2,117.5 985.4,116.8 C986.6,116.1 991.8,115.2 993.0,114.9 C994.2,114.6 998.1,114.0 999.3,113.6 C1000.5,113.2 1005.5,110.9 1006.9,110.4 C1008.3,109.9 1014.4,107.8 1015.8,107.3 C1017.2,106.8 1022.0,104.6 1023.4,104.1 C1024.8,103.6 1030.8,101.9 1032.3,101.6 C1033.8,101.3 1039.8,100.7 1041.2,100.3 C1042.6,99.9 1047.3,97.0 1048.8,96.5 C1050.3,96.0 1057.2,94.8 1058.9,94.8 C1060.6,94.8 1067.8,96.6 1069.1,96.6 C1070.4,96.6 1072.7,95.1 1074.2,95.0 C1075.7,94.9 1084.8,95.8 1086.9,95.9 C1089.0,96.0 1097.7,96.4 1099.5,96.5 C1101.3,96.6 1106.8,97.5 1108.4,97.5 C1110.0,97.5 1117.0,96.6 1118.6,96.5 C1120.2,96.4 1126.0,97.0 1127.4,96.8 C1128.8,96.6 1134.8,94.7 1135.5,94.5" fill="none" stroke="#C00000" stroke-width="7.5" stroke-linejoin="round" stroke-linecap="round"/>
<line x1="614.4" y1="750.4" x2="675.0" y2="750.4" stroke="#000000" stroke-width="7.6" stroke-linecap="round"/>
<text x="682.7" y="761.9" class="l">PA-12/PC</text>
<line x1="869.6999999999999" y1="750.4" x2="930.9000000000001" y2="750.4" stroke="#FF0000" stroke-width="7.6" stroke-linecap="round"/>
<text x="937.9" y="761.9" class="l">CR</text>
<line x1="1125.7" y1="750.4" x2="1186.0" y2="750.4" stroke="#00B050" stroke-width="7.6" stroke-linecap="round"/>
<text x="1192" y="761.9" class="l">BG</text>
<line x1="614.4" y1="803.4" x2="675.0" y2="803.4" stroke="#002060" stroke-width="7.6" stroke-linecap="round"/>
<text x="682.7" y="814.9" class="l">MB</text>
<line x1="869.6999999999999" y1="803.4" x2="930.9000000000001" y2="803.4" stroke="#C00000" stroke-width="7.6" stroke-linecap="round"/>
<text x="937.4" y="814.9" class="l">MR</text>
<text x="589" y="967.3" class="ti">wavenumber (cm<tspan font-size="28" dy="-17">-1</tspan><tspan dy="17">)</tspan></text>
<text transform="translate(38.3,575.3) rotate(-90)" x="0" y="0" class="ti">% transmittance</text>
</svg>
</body></html>
